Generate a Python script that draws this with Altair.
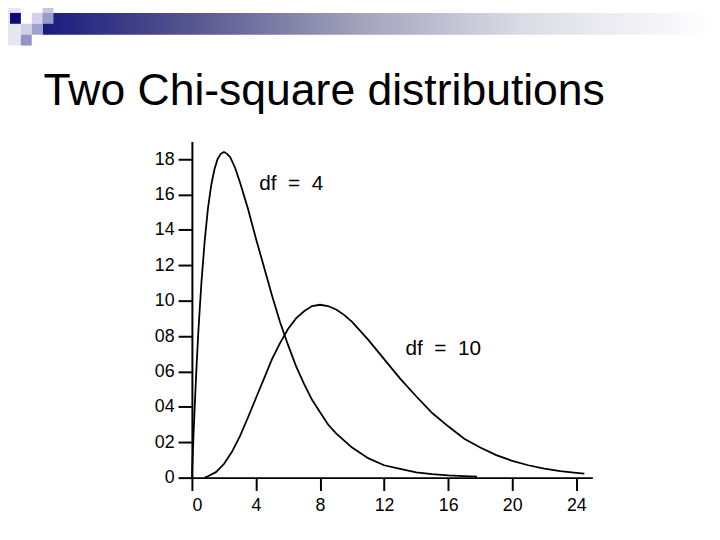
import altair as alt
import pandas as pd

# ---- data ----
x_df4 = [0, 0.1, 0.2, 0.3, 0.4, 0.5, 0.6, 0.8, 1.0, 1.2, 1.4, 1.6, 1.8, 2.0, 2.2, 2.4, 2.7,
         3.0, 3.5, 4.0, 4.5, 5.0, 5.5, 6.0, 6.5, 7.0, 7.5, 8.0, 8.5, 9.0, 10, 11, 12, 13,
         14, 15, 16, 17, 17.8]
y_df4 = [0, 2.4, 4.5, 6.5, 8.2, 9.7, 11.1, 13.4, 15.2, 16.5, 17.4, 18.0, 18.3, 18.4, 18.3, 18.1, 17.5,
         16.7, 15.2, 13.5, 11.9, 10.3, 8.8, 7.5, 6.3, 5.3, 4.4, 3.7, 3.0, 2.5, 1.7, 1.1, 0.7, 0.5,
         0.3, 0.2, 0.13, 0.09, 0.06]

x_df10 = [0.8, 1, 1.5, 2, 2.5, 3, 3.5, 4, 4.5, 5, 5.5, 6, 6.5, 7, 7.5, 8, 8.5, 9, 9.5, 10,
          11, 12, 13, 14, 15, 16, 17, 18, 19, 20, 21, 22, 23, 24, 24.5]
y_df10 = [0, 0.08, 0.31, 0.77, 1.46, 2.35, 3.4, 4.5, 5.6, 6.7, 7.6, 8.4, 9.0, 9.4, 9.7, 9.77, 9.7, 9.5, 9.2, 8.8,
          7.8, 6.7, 5.6, 4.6, 3.65, 2.9, 2.2, 1.7, 1.27, 0.95, 0.7, 0.51, 0.37, 0.27, 0.23]

series_names = ["df = 4", "df = 10"]
x_ticks = [0, 4, 8, 12, 16, 20, 24]
y_ticks = [0, 2, 4, 6, 8, 10, 12, 14, 16, 18]
title_text = "Two Chi-square distributions"
NB = "\u00a0"
label_df4 = "df" + NB * 2 + "=" + NB * 2 + "4"
label_df10 = "df" + NB * 2 + "=" + NB * 2 + "10"

curves = pd.concat([
    pd.DataFrame({"x": x_df4, "y": y_df4, "series": series_names[0]}),
    pd.DataFrame({"x": x_df10, "y": y_df10, "series": series_names[1]}),
])

one = pd.DataFrame({"a": [0]})

lines = alt.Chart(curves).mark_line(color="black", strokeWidth=1.8).encode(
    x=alt.X("x:Q", scale=alt.Scale(domain=[0, 25], nice=False),
            axis=alt.Axis(values=x_ticks, title=None, grid=False, labelFontSize=18,
                          labelPadding=6, tickSize=13, tickWidth=2, domainWidth=2,
                          domainColor="black", tickColor="black", labelColor="black",
                          labelFont="Liberation Sans")),
    y=alt.Y("y:Q", scale=alt.Scale(domain=[0, 19], nice=False),
            axis=alt.Axis(values=y_ticks, title=None, grid=False, labelFontSize=18,
                          labelPadding=4, tickSize=14, tickWidth=2, domainWidth=2,
                          domainColor="black", tickColor="black", labelColor="black",
                          labelFont="Liberation Sans",
                          labelExpr="datum.value == 0 ? '0' : (datum.value < 10 ? '0' + datum.value : '' + datum.value)")),
    detail="series:N",
    order="x:Q",
)


def box(x1, x2, y1, y2, fill):
    return alt.Chart(one).mark_rect(fill=fill).encode(
        x=alt.value(x1), x2=alt.value(x2), y=alt.value(y1), y2=alt.value(y2))


bar = alt.Chart(one).mark_rect(
    fill=alt.Gradient(gradient="linear", x1=0, x2=1, y1=0, y2=0,
                      stops=[alt.GradientStop(color="#1a1a7e", offset=0),
                             alt.GradientStop(color="#55558e", offset=0.22),
                             alt.GradientStop(color="#a4a4bc", offset=0.48),
                             alt.GradientStop(color="#dcdce6", offset=0.72),
                             alt.GradientStop(color="#ffffff", offset=1)])
).encode(x=alt.value(-151), x2=alt.value(526), y=alt.value(-130), y2=alt.value(-108))

decor = [
    box(-194, -173, -140, -97, "#e6e6f3"),
    bar,
    box(-184, -173, -130, -119, "#0c0c78"),
    box(-151, -140, -140, -130, "#c6c6e2"),
    box(-162, -151, -130, -119, "#d2d2ea"),
    box(-151, -140, -130, -119, "#9c9cc8"),
    box(-173, -162, -119, -108, "#cfcfe6"),
    box(-162, -151, -119, -108, "#a0a0d0"),
    box(-173, -162, -108, -97, "#9494c4"),
]

title = alt.Chart(one).mark_text(
    text=title_text, fontSize=45, font="Liberation Sans", align="left",
    baseline="alphabetic", color="black"
).encode(x=alt.value(-150), y=alt.value(-37))

lab4 = alt.Chart(one).mark_text(
    text=label_df4, fontSize=21, font="Liberation Sans", align="left",
    baseline="middle", color="black"
).encode(x=alt.value(68), y=alt.value(43))

lab10 = alt.Chart(one).mark_text(
    text=label_df10, fontSize=21, font="Liberation Sans", align="left",
    baseline="middle", color="black"
).encode(x=alt.value(216), y=alt.value(210))

chart = alt.layer(*decor, title, lines, lab4, lab10).properties(
    width=405, height=340,
    padding={"left": 186, "top": 132, "right": 121, "bottom": 52},
    autosize="none",
    background="white",
).configure_view(stroke=None)

chart.save("out.html", embed_options={"renderer": "svg", "actions": False})
